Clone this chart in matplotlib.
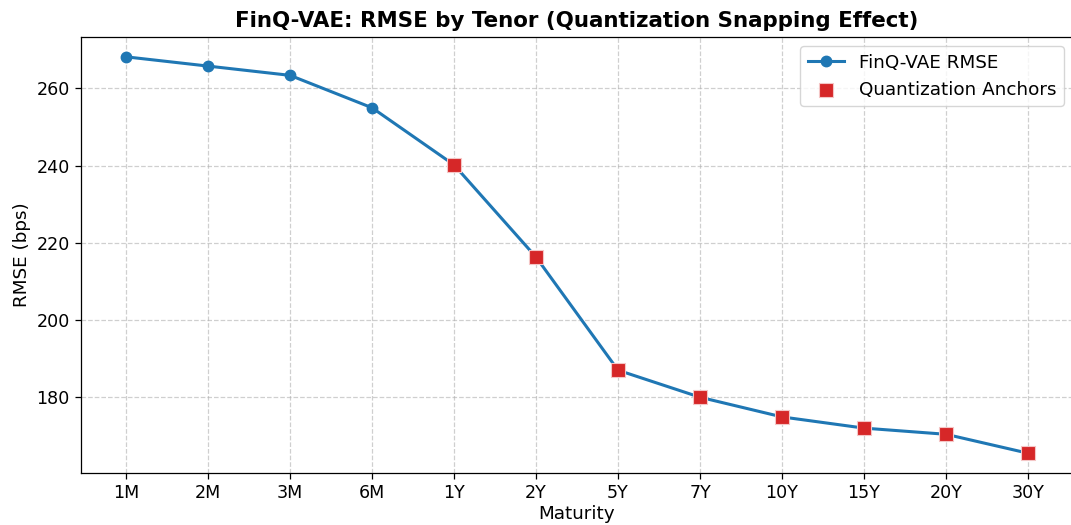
import matplotlib
matplotlib.use("Agg")
import matplotlib.pyplot as plt
import numpy as np

tenors = ['1M', '2M', '3M', '6M', '1Y', '2Y', '5Y', '7Y', '10Y', '15Y', '20Y', '30Y']
rmse = [268.2, 265.8, 263.4, 255.0, 240.2, 216.3, 187.0, 180.0, 174.9, 172.0, 170.4, 165.5]
anchor_tenors = ['1Y', '2Y', '5Y', '7Y', '10Y', '15Y', '20Y', '30Y']

x = np.arange(len(tenors))
anchor_idx = [tenors.index(t) for t in anchor_tenors]
anchor_vals = [rmse[i] for i in anchor_idx]

fig, ax = plt.subplots(figsize=(10.71, 5.25), dpi=100)
fig.subplots_adjust(left=0.0756, right=1.002, top=0.9295, bottom=0.099)

ax.plot(x, rmse, marker='o', color='#1f77b4', linewidth=2.2, markersize=7.5, label='FinQ-VAE RMSE')
ax.scatter(anchor_idx, anchor_vals, marker='s', s=115, color='#d62728', edgecolors='#f4c6c6',
           linewidths=0.8, zorder=5, label='Quantization Anchors')

ax.set_xticks(x)
ax.set_xticklabels(tenors)
ax.tick_params(labelsize=12.6, length=4.5, width=0.9)
ax.set_xlabel('Maturity', fontsize=13.2, labelpad=2)
ax.set_ylabel('RMSE (bps)', fontsize=13.2)
ax.set_title('FinQ-VAE: RMSE by Tenor (Quantization Snapping Effect)', fontsize=15.4, fontweight='bold', pad=7)
ax.grid(True, linestyle='--', alpha=0.6, linewidth=0.9)
for s in ax.spines.values():
    s.set_linewidth(0.9)
ax.legend(loc='upper right', fontsize=13.2)

plt.savefig('out.png', dpi=100)
